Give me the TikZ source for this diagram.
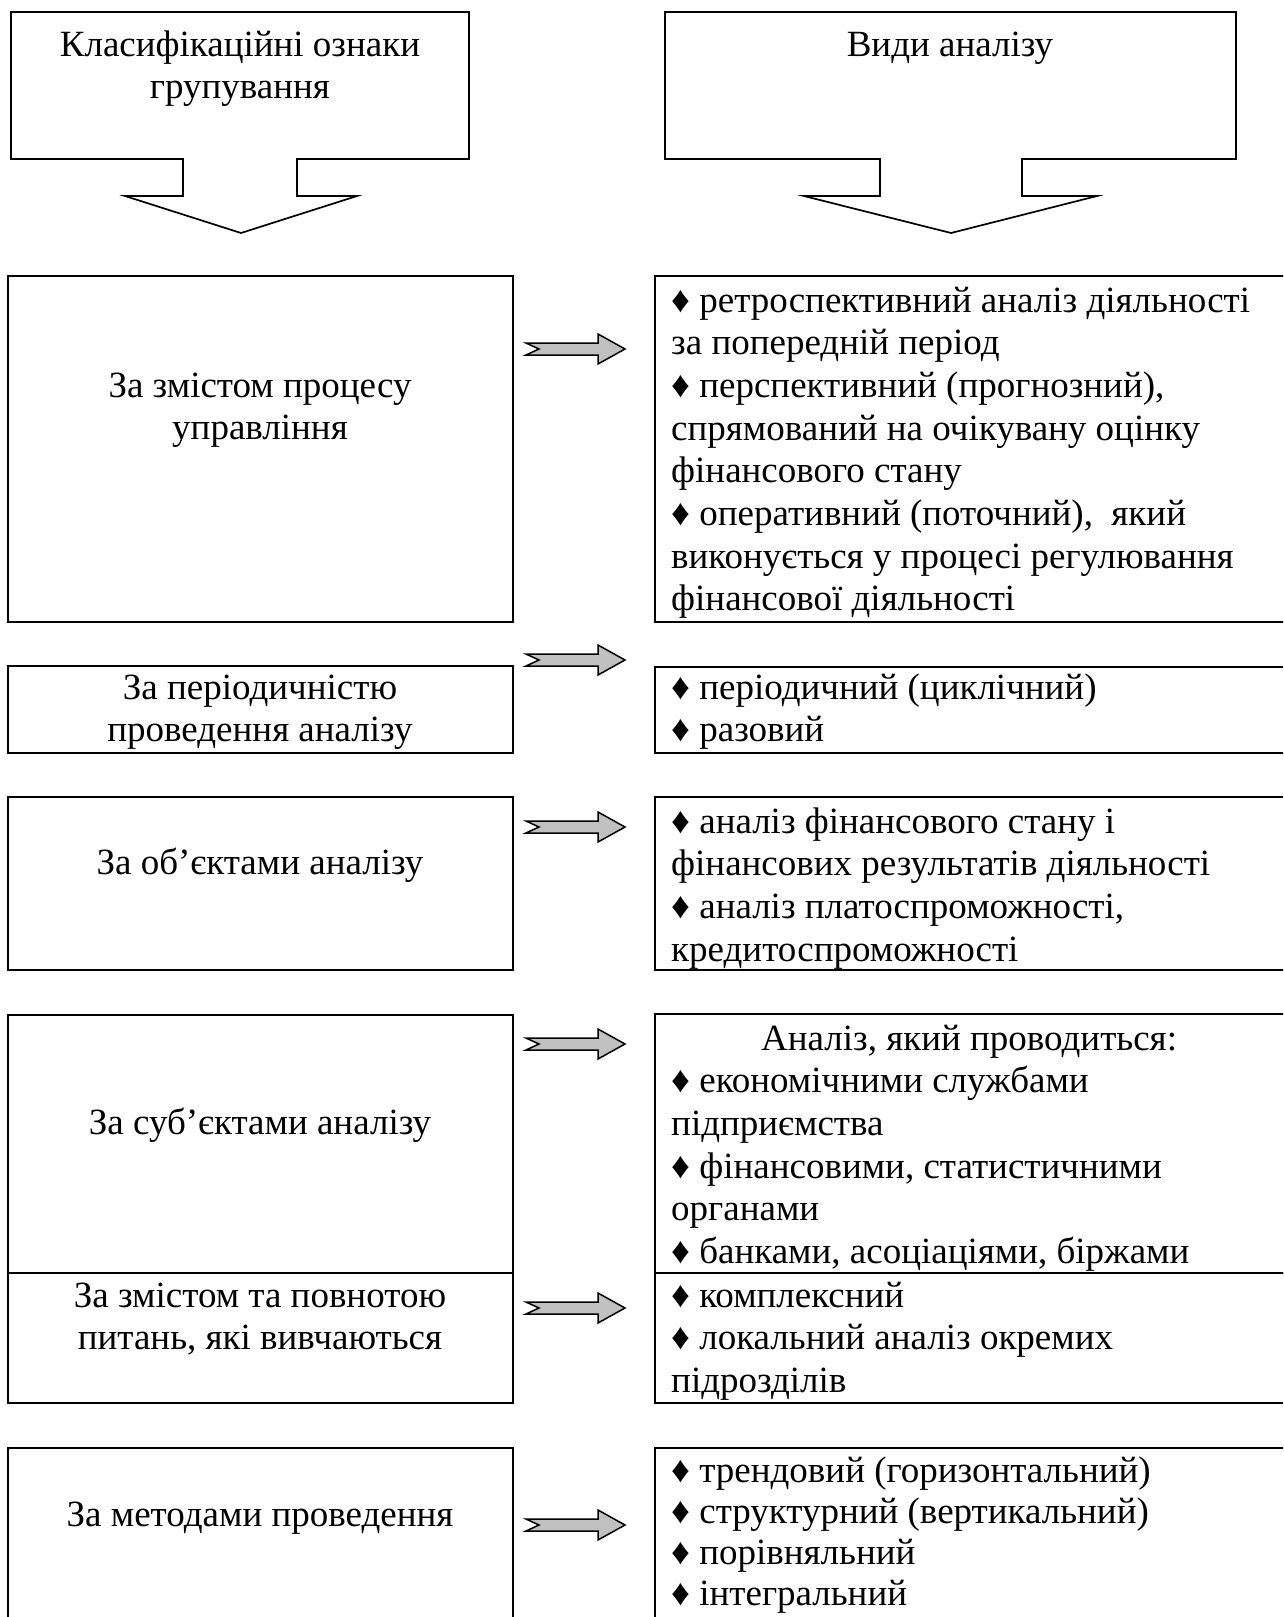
\documentclass[tikz,border=0pt]{standalone}
\usepackage{fontspec}
\setmainfont{Liberation Serif}
\definecolor{arrowgray}{RGB}{192,192,192}
\newcommand\blockarr[1]{%
  \draw[barrow] (526,#1-6) -- (598,#1-6) -- (598,#1-15) -- (625,#1) -- (598,#1+15) -- (598,#1+6) -- (526,#1+6) -- (539,#1) -- cycle;}
\begin{document}
\begin{tikzpicture}[x=1pt,y=-1pt,
  frame/.style={draw=black,line width=1.7pt,rectangle,inner sep=0pt},
  lbl/.style={font=\fontsize{37}{42.7}\selectfont,align=center,inner sep=0pt,anchor=north},
  lst/.style={font=\fontsize{37}{42.7}\selectfont,align=left,inner sep=0pt,anchor=north west},
  barrow/.style={fill=arrowgray,draw=black,line width=1.5pt,line join=miter},
  callout/.style={draw=black,line width=1.7pt,line join=miter}
]
\useasboundingbox (0,0) rectangle (1283,1617);
\clip (0,0) rectangle (1283,1617);
\fill[white] (0,0) rectangle (1283,1617);

% top callout boxes
\draw[callout] (11,12) -- (469,12) -- (469,159) -- (297,159) -- (297,196) -- (357,196) -- (241,233) -- (125,196) -- (183,196) -- (183,159) -- (11,159) -- cycle;
\draw[callout] (665,12) -- (1236,12) -- (1236,159) -- (1022,159) -- (1022,196) -- (1097,196) -- (951,233) -- (804,196) -- (880,196) -- (880,159) -- (665,159) -- cycle;
\node[lbl] (hl) at (240,26) {\strut Класифікаційні ознаки\\групування};
\node[lbl] (hr) at (950,26) {\strut Види аналізу};

% left boxes
\node[frame,minimum width=505pt,minimum height=346pt] (L1) at (260.5,449) {};
\node[frame,minimum width=505pt,minimum height=87pt] (L2) at (260.5,709.5) {};
\node[frame,minimum width=505pt,minimum height=173pt] (L3) at (260.5,883.5) {};
\node[frame,minimum width=505pt,minimum height=258pt] (L4) at (260.5,1144) {};
\node[frame,minimum width=505pt,minimum height=130pt] (L5) at (260.5,1338) {};
\node[frame,minimum width=505pt,minimum height=252pt] (L6) at (260.5,1574) {};

% right boxes
\node[frame,minimum width=645pt,minimum height=346pt] (R1) at (977.5,449) {};
\node[frame,minimum width=645pt,minimum height=86pt] (R2) at (977.5,710) {};
\node[frame,minimum width=645pt,minimum height=173pt] (R3) at (977.5,883.5) {};
\node[frame,minimum width=645pt,minimum height=259pt] (R4) at (977.5,1143.5) {};
\node[frame,minimum width=645pt,minimum height=130pt] (R5) at (977.5,1338) {};
\node[frame,minimum width=645pt,minimum height=252pt] (R6) at (977.5,1574) {};

% left texts
\node[lbl] (t1) at (260,367) {\strut За змістом процесу\\управління};
\node[lbl] (t2) at (260,669) {\strut За періодичністю\\проведення аналізу};
\node[lbl] (t3) at (260,844) {\strut За об’єктами аналізу};
\node[lbl] (t4) at (260,1104) {\strut За суб’єктами аналізу};
\node[lbl] (t5) at (260,1277) {\strut За змістом та повнотою\\питань, які вивчаються};
\node[lbl] (t6) at (260,1496) {\strut За методами проведення};

% right texts
\node[lst] (s1) at (671,282) {\strut ♦ ретроспективний аналіз діяльності\\за попередній період\\♦ перспективний (прогнозний),\\спрямований на очікувану оцінку\\фінансового стану\\♦ оперативний (поточний),\ \ який\\виконується у процесі регулювання\\фінансової діяльності};
\node[lst] (s2) at (671,669) {\strut ♦ періодичний (циклічний)\\♦ разовий};
\node[lst] (s3) at (671,803) {\strut ♦ аналіз фінансового стану і\\фінансових результатів діяльності\\♦ аналіз платоспроможності,\\кредитоспроможності};
\node[lst] (s4) at (671,1020) {\strut \hspace*{90pt}Аналіз, який проводиться:\\♦ економічними службами\\підприємства\\♦ фінансовими, статистичними\\органами\\♦ банками, асоціаціями, біржами};
\node[lst] (s5) at (671,1277) {\strut ♦ комплексний\\♦ локальний аналіз окремих\\підрозділів};
\node[lst,font=\fontsize{37}{41}\selectfont] (s6) at (671,1454) {\strut ♦ трендовий (горизонтальний)\\♦ структурний (вертикальний)\\♦ порівняльний\\♦ інтегральний};

% block arrows
\blockarr{349}
\blockarr{660}
\blockarr{827}
\blockarr{1044}
\blockarr{1308}
\blockarr{1525}
\end{tikzpicture}
\end{document}
